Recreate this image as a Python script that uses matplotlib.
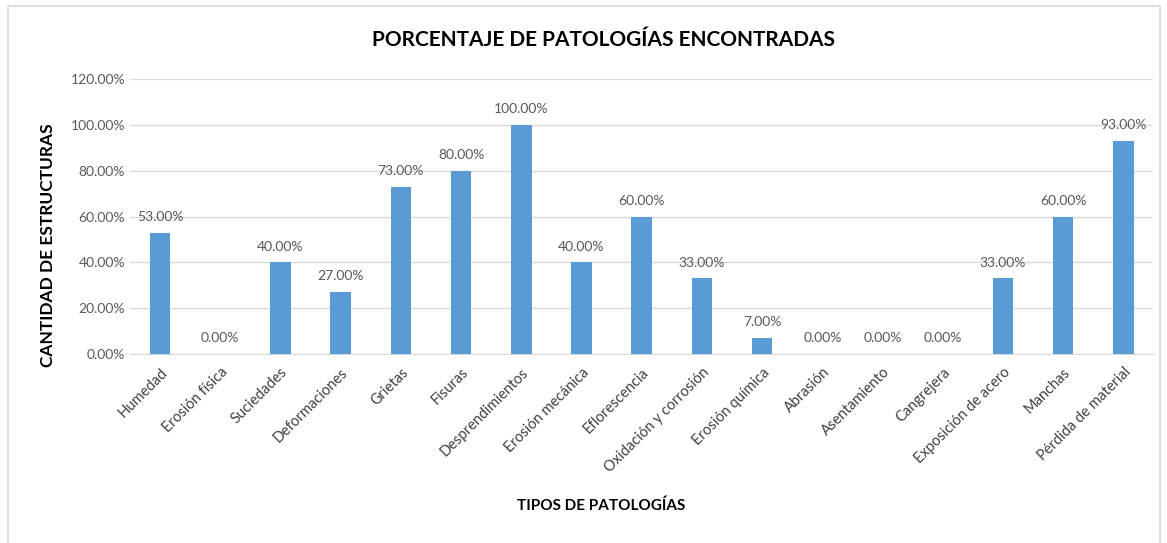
import matplotlib.pyplot as plt
from matplotlib.patches import Rectangle

plt.rcParams['font.family'] = ['Lato', 'DejaVu Sans']

categorias = ['Humedad', 'Erosión física', 'Suciedades', 'Deformaciones', 'Grietas',
              'Fisuras', 'Desprendimientos', 'Erosión mecánica', 'Eflorescencia',
              'Oxidación y corrosión', 'Erosión química', 'Abrasión', 'Asentamiento',
              'Cangrejera', 'Exposición de acero', 'Manchas', 'Pérdida de material']
porcentajes = [53, 0, 40, 27, 73, 80, 100, 40, 60, 33, 7, 0, 0, 0, 33, 60, 93]
yticks = [0, 20, 40, 60, 80, 100, 120]

fig = plt.figure(figsize=(11.67, 5.43), dpi=100)
ax = fig.add_axes([0.1114, 0.348, 0.877, 0.5065])

x = range(len(categorias))
ax.bar(x, porcentajes, width=0.34, color='#5B9BD5', zorder=3)

for xi, v in zip(x, porcentajes):
    ax.annotate(f'{v:.2f}%', (xi, v), xytext=(0, 7), textcoords='offset points',
                ha='center', va='bottom', fontsize=10, color='#595959')

ax.set_xlim(-0.5, len(categorias) - 0.5)
ax.set_ylim(0, 120)
ax.set_yticks(yticks)
ax.set_yticklabels([f'{t:.2f}%' for t in yticks], fontsize=10, color='#595959')
ax.set_xticks(list(x))
ax.set_xticklabels(categorias, rotation=45, ha='right', rotation_mode='anchor',
                   fontsize=10.5, color='#404040')
ax.tick_params(axis='both', length=0)
ax.tick_params(axis='x', pad=8)
ax.grid(axis='y', color='#D9D9D9', linewidth=1, zorder=0)
for s in ['top', 'right', 'left']:
    ax.spines[s].set_visible(False)
ax.spines['bottom'].set_color('#D9D9D9')

fig.text(48 / 1167, 1 - 245 / 543, 'CANTIDAD DE ESTRUCTURAS', rotation=90,
         ha='center', va='center', fontsize=12.5, fontweight='bold')
fig.text(0.515, 0.068, 'TIPOS DE PATOLOGÍAS', ha='center', va='center',
         fontsize=11, fontweight='bold')
fig.text(0.517, 0.926, 'PORCENTAJE DE PATOLOGÍAS ENCONTRADAS', ha='center', va='center',
         fontsize=15, fontweight='bold')

fig.patches.append(Rectangle((8 / 1167, -0.02), 1152 / 1167, 1 - 6 / 543 + 0.02,
                             transform=fig.transFigure, fill=False,
                             edgecolor='#D9D9D9', linewidth=1.2))

fig.savefig('out.png', dpi=100)
